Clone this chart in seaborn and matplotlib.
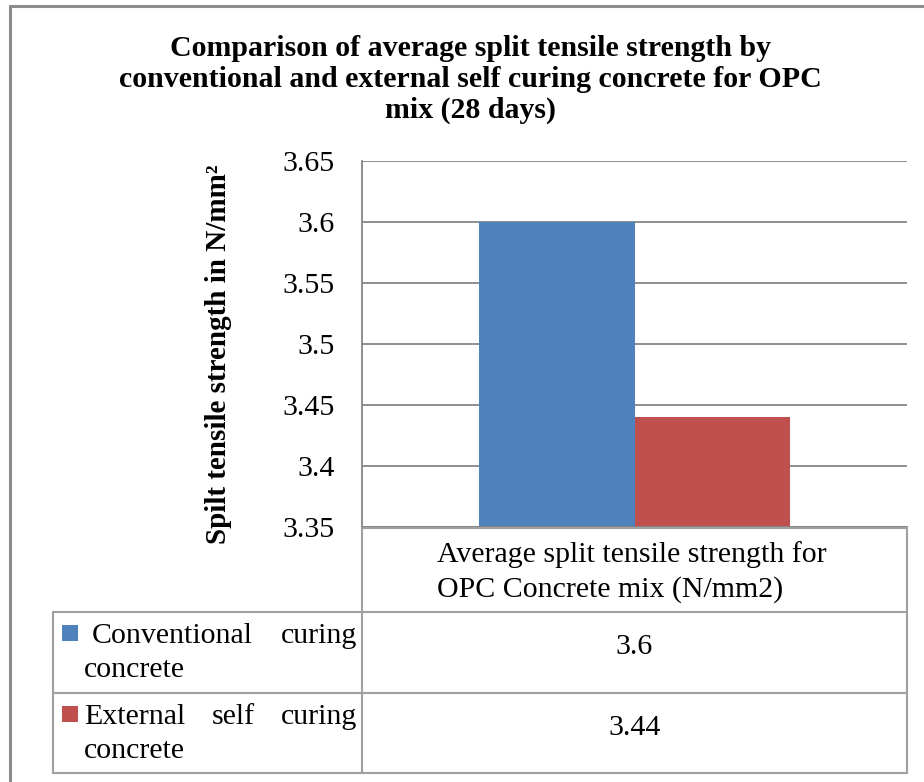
import matplotlib
matplotlib.use("Agg")
import matplotlib.pyplot as plt
import seaborn as sns
import pandas as pd
from matplotlib.lines import Line2D
from matplotlib.patches import Rectangle

# ---------------- data ----------------
title_lines = ["Comparison of average split tensile strength by",
               "conventional and external self curing concrete for OPC",
               "mix (28 days)"]
category = ["Average split tensile strength for\nOPC Concrete mix (N/mm2)"]
series = ["Conventional curing concrete", "External self curing concrete"]
values = [3.6, 3.44]
value_labels = ["3.6", "3.44"]
colors = ["#4F81BD", "#C0504D"]
y_ticks = [3.35, 3.40, 3.45, 3.50, 3.55, 3.60, 3.65]
y_tick_labels = ["3.35", "3.4", "3.45", "3.5", "3.55", "3.6", "3.65"]
y_label = "Spilt tensile strength in N/mm²"

df = pd.DataFrame({"cat": [category[0]] * len(series), "series": series, "value": values})

# ---------------- layout ----------------
W, H = 924, 782
sns.set_theme(style="white")
plt.rcParams["font.family"] = ["Liberation Serif", "DejaVu Serif"]
plt.rcParams["text.color"] = "black"
plt.rcParams["ytick.color"] = "black"

FS = 21.5

fig = plt.figure(figsize=(W / 100, H / 100), dpi=100)
fx = lambda x: x / W
fy = lambda y: 1 - y / H

L, R, T, B = 362, 907, 161, 527
ax = fig.add_axes([fx(L), fy(B), fx(R) - fx(L), fy(T) - fy(B)])

sns.barplot(data=df, x="cat", y="value", hue="series", palette=colors,
            width=0.572, saturation=1, ax=ax, legend=False, errorbar=None)

grid_c = "#868686"
ax.set_ylim(y_ticks[0], y_ticks[-1])
ax.set_xlim(-0.5, 0.5)
ax.set_yticks(y_ticks)
ax.set_yticklabels(y_tick_labels, fontsize=FS, color="black")
ax.yaxis.grid(True, color=grid_c, linewidth=1.3)
ax.set_axisbelow(True)
ax.tick_params(axis="y", length=0, pad=19.5, labelcolor="black")
ax.set_xticks([])
ax.set_xlabel("")
ax.set_ylabel("")
for s in ["top", "right"]:
    ax.spines[s].set_visible(False)
ax.spines["left"].set_color(grid_c)
ax.spines["left"].set_linewidth(1.3)
ax.spines["bottom"].set_color(grid_c)
ax.spines["bottom"].set_linewidth(1.3)
for p in ax.patches:
    p.set_edgecolor("none")

# y label
fig.text(fx(219), fy(354), y_label, rotation=90, ha="center", va="center",
         fontsize=21, fontweight="bold")

# title
for i, line in enumerate(title_lines):
    fig.text(fx(470), fy(56 + 31 * i), line, ha="center", va="baseline",
             fontsize=FS, fontweight="bold")

# outer frame (left and top edges visible)
frame_c = "#8C8C8C"
fig.add_artist(Line2D([fx(10), fx(10)], [fy(6), 0], color=frame_c, lw=2.2))
fig.add_artist(Line2D([fx(10), 1], [fy(6), fy(6)], color=frame_c, lw=2.2))

# ---------------- data table ----------------
tc = "#A0A0A0"
tlw = 1.5
TL, TM, TR = 53, 362, 907
hdr_top, r1_top, r2_top, t_bot = 528, 612, 693, 773

def hline(x0, x1, y):
    fig.add_artist(Line2D([fx(x0), fx(x1)], [fy(y), fy(y)], color=tc, lw=tlw))

def vline(x, y0, y1):
    fig.add_artist(Line2D([fx(x), fx(x)], [fy(y0), fy(y1)], color=tc, lw=tlw))

hline(TM, TR, hdr_top)
hline(TL, TR, r1_top)
hline(TL, TR, r2_top)
hline(TL, TR, t_bot)
vline(TM, hdr_top, t_bot)
vline(TR, hdr_top, t_bot)
vline(TL, r1_top, t_bot)

# header
hdr_lines = category[0].split("\n")
for i, line in enumerate(hdr_lines):
    fig.text(fx(437), fy(562 + 35 * i), line, ha="left", va="baseline", fontsize=FS)

# rows
fig.canvas.draw()
renderer = fig.canvas.get_renderer()
row_tops = [r1_top, r2_top]
first_x = [92, 84]
for k, (name, val, col) in enumerate(zip(series, value_labels, colors)):
    top = row_tops[k]
    fig.add_artist(Rectangle((fx(62), fy(top + 29)), fx(16), 16 / H,
                             transform=fig.transFigure, color=col, lw=0))
    words = name.split()
    first, last = words[:-1], words[-1]
    base1 = top + 31
    # justify first line between first_x and right edge
    x_left, x_right = first_x[k], 357
    widths = []
    for w in first:
        t = fig.text(0, 0, w, fontsize=FS)
        widths.append(t.get_window_extent(renderer).width)
        t.remove()
    gap = (x_right - x_left - sum(widths)) / max(len(first) - 1, 1)
    x = x_left
    for w, wd in zip(first, widths):
        fig.text(fx(x), fy(base1), w, ha="left", va="baseline", fontsize=FS)
        x += wd + gap
    fig.text(fx(84), fy(base1 + 34), last, ha="left", va="baseline", fontsize=FS)
    fig.text(fx((TM + TR) / 2), fy(top + 42), val, ha="center", va="baseline", fontsize=FS)

fig.savefig("out.png", dpi=100)
